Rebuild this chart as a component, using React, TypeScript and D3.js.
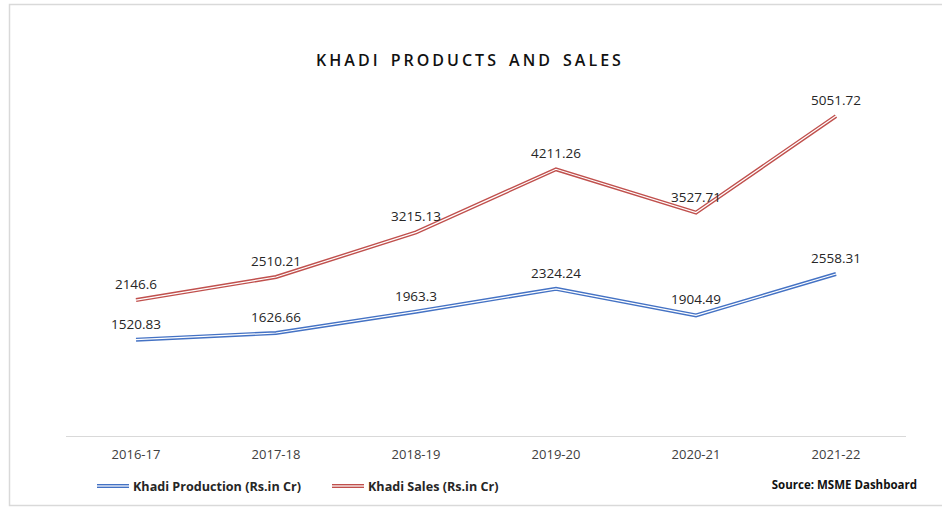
import * as d3 from "d3";

const years = ["2016-17", "2017-18", "2018-19", "2019-20", "2020-21", "2021-22"];
const production = [1520.83, 1626.66, 1963.3, 2324.24, 1904.49, 2558.31];
const sales = [2146.6, 2510.21, 3215.13, 4211.26, 3527.71, 5051.72];

const SERIES = [
  { name: "Khadi Production (Rs.in Cr)", values: production, color: "#4472C4" },
  { name: "Khadi Sales (Rs.in Cr)", values: sales, color: "#C0504D" },
];

const WIDTH = 942;
const HEIGHT = 509;
const margin = { top: 56, right: 36, bottom: 73, left: 66 };
const FONT = "'Open Sans', 'Liberation Sans', sans-serif";

const App = () => {
  const x = d3
    .scaleBand()
    .domain(years)
    .range([margin.left, WIDTH - margin.right]);

  const y = d3
    .scaleLinear()
    .domain([0, 6000])
    .range([HEIGHT - margin.bottom, margin.top]);

  const line = d3
    .line<number>()
    .x((_, i) => x(years[i])! + x.bandwidth() / 2)
    .y((d) => y(d));

  const baseY = y(0);

  return (
    <svg
      width={WIDTH}
      height={HEIGHT}
      style={{ position: "fixed", left: 0, top: 0, background: "#fff" }}
      fontFamily={FONT}
    >
      {/* chart frame */}
      <rect x={9.5} y={4.5} width={WIDTH} height={501} fill="#fff" stroke="#d9d9d9" strokeWidth={1.5} />

      {/* title */}
      <text
        x={470}
        y={66}
        textAnchor="middle"
        fontSize={16}
        fontWeight={600}
        letterSpacing={3}
        wordSpacing={3}
        fill="#111"
      >
        KHADI PRODUCTS AND SALES
      </text>

      {/* category axis */}
      <line x1={margin.left} x2={WIDTH - margin.right} y1={baseY + 0.5} y2={baseY + 0.5} stroke="#d9d9d9" strokeWidth={1} />
      {years.map((yr) => (
        <text
          key={yr}
          x={x(yr)! + x.bandwidth() / 2}
          y={baseY + 23}
          textAnchor="middle"
          fontSize={13}
          fill="#404040"
        >
          {yr}
        </text>
      ))}

      {/* double lines */}
      {SERIES.map((s) => (
        <g key={s.name}>
          <path d={line(s.values)!} fill="none" stroke={s.color} strokeWidth={4} strokeLinejoin="miter" />
          <path d={line(s.values)!} fill="none" stroke="#fff" strokeWidth={1.2} strokeLinejoin="miter" />
        </g>
      ))}

      {/* data labels */}
      {SERIES.map((s) =>
        s.values.map((v, i) => (
          <text
            key={s.name + i}
            x={x(years[i])! + x.bandwidth() / 2}
            y={y(v) - 11}
            textAnchor="middle"
            fontSize={13.5}
            fill="#262626"
          >
            {v}
          </text>
        ))
      )}

      {/* legend */}
      {SERIES.map((s, i) => {
        const lx = i === 0 ? 97 : 332;
        const ly = 486;
        return (
          <g key={s.name} transform={`translate(${lx},${ly})`}>
            <line x1={0} x2={32} y1={0} y2={0} stroke={s.color} strokeWidth={4} />
            <line x1={0} x2={32} y1={0} y2={0} stroke="#fff" strokeWidth={1.2} />
            <text x={36} y={4.5} fontSize={12.6} fontWeight={700} fill="#262626">
              {s.name}
            </text>
          </g>
        );
      })}

      <text x={917} y={489} textAnchor="end" fontSize={11.5} fontWeight={700} fill="#111">
        Source: MSME Dashboard
      </text>
    </svg>
  );
};

export default App;
